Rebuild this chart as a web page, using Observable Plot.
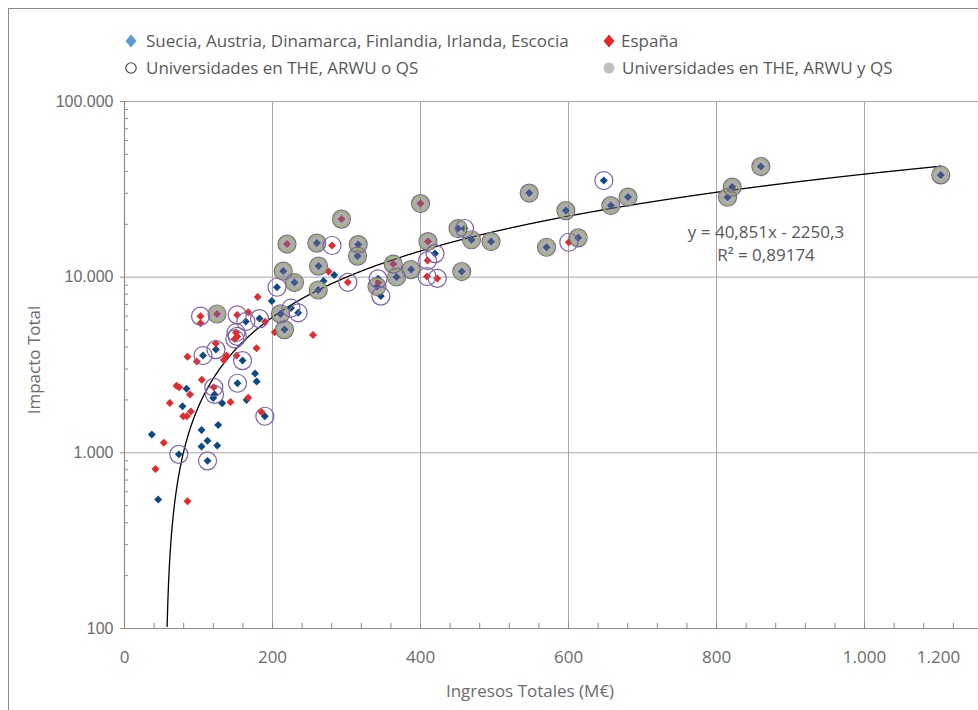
<!DOCTYPE html>
<html>
<head>
<meta charset="utf-8">
<script src="https://cdn.jsdelivr.net/npm/d3@7"></script>
<script src="https://cdn.jsdelivr.net/npm/@observablehq/plot@0.6"></script>
<style>
  body { margin: 0; background: #fff; font-family: "Open Sans", sans-serif; color: #595959; }
  #page { position: relative; width: 978px; height: 710px; overflow: hidden; }
  #frame { position: absolute; left: 8px; top: 8px; width: 980px; height: 710px;
           border-left: 1.5px solid #8a8a8a; border-top: 1.5px solid #8a8a8a; }
  .lt { position: absolute; font-size: 17px; line-height: 22px; white-space: nowrap; color: #595959; }
  .lm { position: absolute; }
  #chart { position: absolute; left: 0; top: 80px; }
  .eq { position: absolute; font-size: 17px; line-height: 17px; white-space: nowrap; color: #595959; transform: translateX(-50%); }
  #ytitle { position: absolute; left: 33px; top: 360px; font-size: 17px; color: #6b6b6b; white-space: nowrap;
            transform: translate(-50%, -50%) rotate(-90deg); }
  #xtitle { position: absolute; left: 530px; top: 690px; font-size: 17px; color: #6b6b6b; white-space: nowrap;
            transform: translate(-50%, -50%); }
</style>
</head>
<body>
<div id="page">
  <div id="frame"></div>
  <svg class="lm" style="left:124px;top:34px" width="14" height="14"><path d="M7 0.5 L12.5 7 L7 13.5 L1.5 7Z" fill="#5b9bd5"/></svg>
  <div class="lt" style="left:146px;top:30px">Suecia, Austria, Dinamarca, Finlandia, Irlanda, Escocia</div>
  <svg class="lm" style="left:602px;top:34px" width="14" height="14"><path d="M7 0.5 L12.5 7 L7 13.5 L1.5 7Z" fill="#e3262b"/></svg>
  <div class="lt" style="left:621px;top:30px">España</div>
  <svg class="lm" style="left:124px;top:61px" width="14" height="14"><circle cx="7" cy="7" r="5.2" fill="none" stroke="#404040" stroke-width="1.1"/></svg>
  <div class="lt" style="left:146px;top:57px">Universidades en THE, ARWU o QS</div>
  <svg class="lm" style="left:602px;top:61px" width="14" height="14"><circle cx="7" cy="7" r="5.5" fill="#bfbfbf"/></svg>
  <div class="lt" style="left:622px;top:57px">Universidades en THE, ARWU y QS</div>
  <div id="chart"></div>
  <div class="eq" style="left:766px;top:223px">y = 40,851x - 2250,3</div>
  <div class="eq" style="left:766px;top:246px">R² = 0,89174</div>
  <div id="ytitle">Impacto Total</div>
  <div id="xtitle">Ingresos Totales (M€)</div>
</div>
<script>
// ---- Data ----
// ranking: 0 = sin ranking, 1 = en THE, ARWU o QS (círculo abierto), 2 = en THE, ARWU y QS (círculo relleno)
const nordicIngresos = [36.9, 45.5, 78.4, 83.8, 104.1, 126.6, 112.2, 104.1, 125.3, 119.9, 132, 164.9, 176.4, 178.6, 199, 268.9, 283.4,
  73.4, 112.2, 189.6, 106.1, 123.6, 159.5, 152.7, 163.9, 182.4, 206.1, 225, 234.7, 121.6, 342.6, 346.4, 419.6, 459.5, 647.7,
  214.5, 229.7, 210.8, 216.2, 259.9, 262.2, 261.8, 315.8, 314.9, 341.2, 367.6, 387.2, 450.7, 468.9, 495.3, 455.7, 546.9, 570.3, 596.4, 613.1, 657.2, 680.4, 814.9, 821.2, 859.9, 1103];
const nordicImpacto = [1270, 542, 1840, 2320, 1350, 1440, 1170, 1085, 1100, 2050, 1915, 2000, 2830, 2550, 7310, 9500, 10280,
  980, 900, 1615, 3580, 3870, 3350, 2490, 5590, 5810, 8760, 6670, 6270, 2150, 9780, 7800, 13620, 18920, 35480,
  10830, 9320, 6180, 5030, 15630, 11560, 8450, 15330, 13180, 8840, 10020, 11040, 18910, 16330, 15950, 10760, 30110, 14800, 23930, 16740, 25560, 28570, 28500, 32570, 42610, 38200];
const nordicRanking = [0, 0, 0, 0, 0, 0, 0, 0, 0, 0, 0, 0, 0, 0, 0, 0, 0,
  1, 1, 1, 1, 1, 1, 1, 1, 1, 1, 1, 1, 1, 1, 1, 1, 1, 1,
  2, 2, 2, 2, 2, 2, 2, 2, 2, 2, 2, 2, 2, 2, 2, 2, 2, 2, 2, 2, 2, 2, 2, 2, 2, 2];

const espanaIngresos = [41.9, 53.1, 61.2, 70.3, 73.9, 79.3, 84.1, 89.6, 88.5, 85.1, 85.1, 97.7, 102.7, 104.5, 143.2, 167.2, 185.1, 134.2, 137.8, 123.4, 151.4, 178.4, 167.2, 189.9, 180, 203.1, 254.7, 275.7, 343.2,
  102.7, 152.3, 120.7, 149.1, 152.3, 150.7, 280.4, 301.8, 409.5, 408.8, 422.6, 600.4,
  125, 219.6, 293.2, 400, 410.1, 363.2];
const espanaImpacto = [810, 1140, 1920, 2410, 2360, 1615, 1615, 1720, 2150, 530, 3520, 3310, 5470, 2610, 1950, 2060, 1710, 3380, 3580, 4190, 3580, 3940, 6310, 5570, 7710, 4860, 4680, 10760, 9350,
  6000, 6100, 2360, 4450, 4600, 4840, 15140, 9350, 12430, 10080, 9840, 15800,
  6170, 15430, 21410, 26240, 15950, 11870];
const espanaRanking = [0, 0, 0, 0, 0, 0, 0, 0, 0, 0, 0, 0, 0, 0, 0, 0, 0, 0, 0, 0, 0, 0, 0, 0, 0, 0, 0, 0, 0,
  1, 1, 1, 1, 1, 1, 1, 1, 1, 1, 1, 1,
  2, 2, 2, 2, 2, 2];

// Excel trend line shown on the chart: y = 40,851x - 2250,3
const trendSlope = 40.851;
const trendIntercept = -2250.3;
const trendStart = 57.6;
const trendEnd = 1103;

const yTicks = [100, 1000, 10000, 100000];
const yTickLabels = ["100", "1.000", "10.000", "100.000"];
const xTicks = [0, 200, 400, 600, 800, 1000, 1100];
const xTickLabels = ["0", "200", "400", "600", "800", "1.000", "1.200"];
const xGrid = [200, 400, 600, 800, 1000];
const yGrid = [1000, 10000];

// ---- Build rows ----
const rows = [
  ...nordicIngresos.map((x, i) => ({x, y: nordicImpacto[i], grupo: "nordic", ranking: nordicRanking[i]})),
  ...espanaIngresos.map((x, i) => ({x, y: espanaImpacto[i], grupo: "espana", ranking: espanaRanking[i]}))
];
const trend = d3.range(trendStart, trendEnd + 0.01, 1).concat([trendEnd])
  .map(x => ({x, y: trendSlope * x + trendIntercept}));
const yMinor = [2,3,4,5,6,7,8,9].flatMap(m => [100, 1000, 10000].map(d => m * d));
const xMinor = d3.range(40, 1154, 40);

const chart = Plot.plot({
  width: 978,
  height: 630,
  marginLeft: 124,
  marginRight: 0,
  marginTop: 21,
  marginBottom: 82,
  x: {domain: [0, 1154]},
  y: {type: "log", domain: [100, 100000]},
  style: {fontFamily: "Open Sans", fontSize: "16px", color: "#666", background: "transparent", overflow: "visible"},
  marks: [
    Plot.gridX(xGrid, {stroke: "#a6a6a6", strokeOpacity: 1, strokeWidth: 1}),
    Plot.gridY(yGrid, {stroke: "#a6a6a6", strokeOpacity: 1, strokeWidth: 1}),
    Plot.ruleY([100000], {stroke: "#a6a6a6", strokeWidth: 1}),
    Plot.ruleY(yMinor, {x1: 0, x2: 5.4, stroke: "#8c8c8c"}),
    Plot.ruleX(xMinor, {y1: 100, y2: 107, stroke: "#8c8c8c"}),
    Plot.ruleX([0], {stroke: "#8c8c8c", strokeWidth: 1.2}),
    Plot.ruleY([100], {stroke: "#8c8c8c", strokeWidth: 1.2}),
    Plot.axisY(yTicks, {
      tickSize: 4, tickPadding: 7, stroke: "#8c8c8c",
      tickFormat: d => yTickLabels[yTicks.indexOf(d)],
      fontFamily: "Liberation Sans", fontSize: 16, fill: "#6b6b6b", label: null
    }),
    Plot.axisX(xTicks, {
      tickSize: 0, tickPadding: 22,
      tickFormat: d => xTickLabels[xTicks.indexOf(d)],
      fontSize: 17, fill: "#6b6b6b", label: null
    }),
    Plot.line(trend, {x: "x", y: "y", stroke: "#000", strokeWidth: 1.3}),
    Plot.dot(rows, {x: "x", y: "y", symbol: "diamond2", r: 3.6,
      fill: d => d.grupo === "nordic" ? "#0b4a82" : "#e52a2c", stroke: "none"}),
    Plot.dot(rows.filter(d => d.ranking === 2), {x: "x", y: "y", r: 7.6,
      fill: "#6e6680", fillOpacity: 0.55, stroke: "#9bbb59", strokeWidth: 1.7}),
    Plot.dot(rows.filter(d => d.ranking >= 1), {x: "x", y: "y", r: 9,
      fill: "none", stroke: "#7e63a6", strokeWidth: 1.2})
  ]
});
document.getElementById("chart").appendChild(chart);
</script>
</body>
</html>
